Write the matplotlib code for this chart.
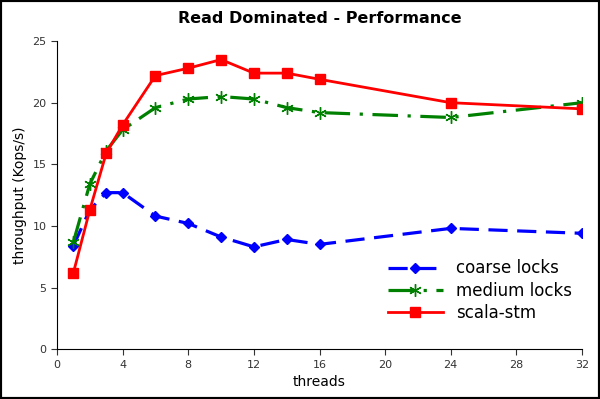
import matplotlib
matplotlib.use('Agg')
import matplotlib.pyplot as plt
from matplotlib.patches import Rectangle

threads = [1, 2, 3, 4, 6, 8, 10, 12, 14, 16, 24, 32]
coarse = [8.4, 11.3, 12.7, 12.7, 10.8, 10.2, 9.1, 8.3, 8.9, 8.5, 9.8, 9.4]
medium = [8.7, 13.4, 16.1, 17.8, 19.6, 20.3, 20.5, 20.3, 19.6, 19.2, 18.8, 20.0]
stm = [6.2, 11.3, 15.9, 18.2, 22.2, 22.8, 23.5, 22.4, 22.4, 21.9, 20.0, 19.5]
xticks = [0, 4, 8, 12, 16, 20, 24, 28, 32]
yticks = [0, 5, 10, 15, 20, 25]

fig = plt.figure(figsize=(6, 3.99), dpi=100)
ax = fig.add_axes([0.095, 0.125, 0.875, 0.772])

ax.plot(threads, coarse, color='blue', linestyle=(0, (6, 3)), linewidth=2.3,
        marker='D', markersize=5, label='coarse locks')
ax.plot(threads, medium, color='green', linestyle=(0, (8, 3, 1, 3)), linewidth=2.3,
        marker=(6, 2, 0), markersize=9, markeredgewidth=1.0, label='medium locks')
ax.plot(threads, stm, color='red', linestyle='-', linewidth=2.0,
        marker='s', markersize=7, label='scala-stm')

ax.set_xlim(0, 32)
ax.set_ylim(0, 25)
ax.set_xticks(xticks)
ax.set_yticks(yticks)
ax.spines['top'].set_visible(False)
ax.spines['right'].set_visible(False)
ax.tick_params(direction='out', labelsize=8, colors='#333333', length=4)
ax.set_xlabel('threads', fontsize=10)
ax.set_ylabel('throughput (Kops/s)', fontsize=10)
ax.set_title('Read Dominated - Performance', fontsize=11.5, fontweight='bold', pad=13)

ax.legend(loc='lower right', bbox_to_anchor=(1.01, 0.04), frameon=False, fontsize=12,
          handlelength=3.3, labelspacing=0.25)

fig.patches.append(Rectangle((0, 0), 1, 1, transform=fig.transFigure,
                             fill=False, edgecolor='black', linewidth=3))

fig.savefig('out.png', dpi=100)
